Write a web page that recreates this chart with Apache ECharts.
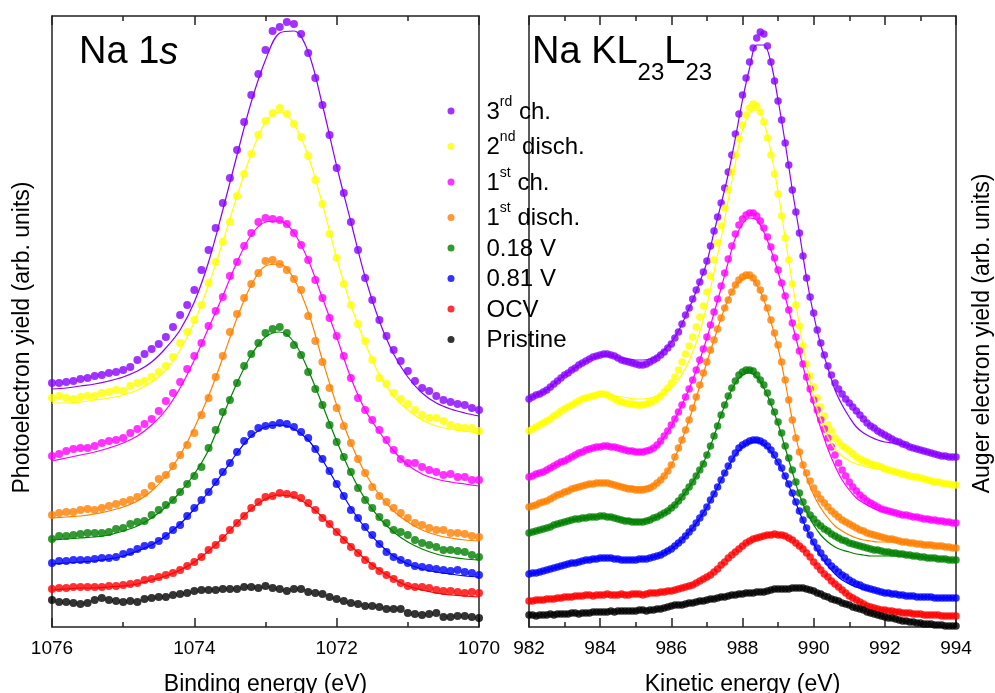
<!DOCTYPE html>
<html><head><meta charset="utf-8">
<script src="https://cdn.jsdelivr.net/npm/echarts@6/dist/echarts.min.js"></script>
<style>html,body{margin:0;padding:0;background:#fff}#c{width:995px;height:693px}</style>
</head><body><div id="c"></div>
<script>
const FONT = "'Liberation Sans', Arial, Helvetica, sans-serif";
const names = ['3rd ch.', '2nd disch.', '1st ch.', '1st disch.', '0.18 V', '0.81 V', 'OCV', 'Pristine'];
const colors = ['#8800ff', '#ffff00', '#ff00ff', '#ff8000', '#008000', '#0000ff', '#ff0000', '#000000'];
const legendLabels = {
  '3rd ch.': '{n|3}{sup|rd}{n| ch.}',
  '2nd disch.': '{n|2}{sup|nd}{n| disch.}',
  '1st ch.': '{n|1}{sup|st}{n| ch.}',
  '1st disch.': '{n|1}{sup|st}{n| disch.}',
  '0.18 V': '{n|0.18 V}',
  '0.81 V': '{n|0.81 V}',
  'OCV': '{n|OCV}',
  'Pristine': '{n|Pristine}'
};

// ---- Na 1s : binding energy grid 1076 -> 1070 eV (points every 0.1 eV, fits every 0.2 eV)
const beStart = 1076, beStep = -0.1, beFitStep = -0.2;
const na1s_3ch = [244,244,245,246,248,249,251,252,254,255,257,260,267,273,278,283,290,300,312,322,337,357,377,399,424,449,477,505,532,553,577,596,600,605,603,593,574,549,522,492,459,434,405,377,349,327,307,291,277,266,256,246,239,236,231,227,225,223,222,219,217];
const na1s_2dis = [229,231,229,228,230,231,231,234,235,237,236,241,244,246,250,255,261,270,284,295,307,322,344,365,385,405,431,453,473,492,506,514,519,513,503,490,471,447,423,393,369,343,322,303,286,267,249,243,234,228,223,217,212,209,209,206,202,200,199,199,196];
const na1s_1ch = [171,173,176,178,179,179,181,184,186,187,189,194,198,203,208,216,226,234,245,258,271,284,301,316,330,351,365,381,394,405,409,408,407,403,394,382,367,347,329,309,291,271,249,229,217,207,197,187,177,168,164,164,160,157,155,152,153,150,150,147,147];
const na1s_1dis = [112,114,115,115,117,118,117,119,121,123,125,127,130,134,141,148,152,161,172,182,194,212,229,250,271,295,313,329,343,354,366,367,363,357,348,337,311,286,265,239,219,201,184,168,154,140,131,125,119,114,109,104,102,99,97,97,94,94,93,91,90];
const na1s_018 = [88,91,91,92,93,94,94,94,95,98,99,103,105,106,112,117,122,127,135,143,151,160,179,197,215,227,244,261,273,284,294,298,300,294,282,272,255,238,222,202,185,170,155,139,127,119,110,104,97,95,92,87,84,82,80,77,77,76,75,72,70];
const na1s_081 = [64,66,66,67,67,67,68,69,69,70,73,75,78,81,82,86,91,97,102,111,119,127,135,145,155,164,175,186,193,199,201,202,204,203,200,195,189,178,168,156,143,131,117,109,100,92,83,75,70,67,64,61,60,59,58,57,56,57,55,54,52];
const na1s_ocv = [38,39,39,40,40,40,40,40,41,41,42,43,44,47,48,50,52,54,57,61,65,70,77,82,89,97,104,111,119,125,130,131,134,133,132,129,124,117,109,103,95,87,80,74,67,61,56,52,48,44,41,40,40,39,37,36,36,35,34,35,34];
const na1s_pri = [27,25,25,24,23,24,27,29,27,26,25,26,25,28,29,30,30,32,33,34,36,37,37,37,38,38,38,40,40,39,41,39,38,36,38,38,35,34,33,30,28,26,24,23,21,21,20,18,18,18,14,13,12,13,14,10,10,11,11,10,9];

const na1sFit_3ch = [238,239,241,243,246,250,256,265,279,297,325,365,417,472,525,567,594,596,575,522,461,405,350,306,273,250,234,224,218,214,211];
const na1sFit_2dis = [224,224,225,227,229,232,237,245,257,277,305,342,385,431,473,505,515,503,471,423,369,322,284,252,231,217,207,201,198,196,194];
const na1sFit_1ch = [166,169,172,175,179,184,191,202,217,239,267,299,331,365,392,405,406,394,367,329,290,249,217,195,176,162,153,148,145,143,141];
const na1sFit_1dis = [109,110,111,113,116,120,126,136,151,172,199,231,269,309,342,361,363,348,315,267,222,184,154,132,116,105,97,92,89,87,86];
const na1sFit_018 = [87,88,89,90,92,96,101,109,120,135,153,177,211,244,272,290,295,285,257,222,186,154,128,109,95,85,78,73,70,68,67];
const na1sFit_081 = [63,64,65,66,68,71,76,82,91,103,118,135,154,174,191,200,202,198,187,167,143,119,99,83,71,63,58,55,53,51,50];
const na1sFit_ocv = [37,38,39,39,40,41,43,47,51,57,65,76,89,104,118,128,132,130,122,110,95,81,68,57,48,41,37,34,32,31,30];

// ---- Na KL23L23 : kinetic energy grid 982 -> 994 eV (points every 0.1 eV, fits every 0.2 eV)
const keStart = 982, keStep = 0.1, keFitStep = 0.2;
const aug_3ch = [228,230,232,233,235,237,240,243,246,249,252,254,257,259,262,264,266,268,270,271,272,273,273,272,271,269,267,266,265,264,263,262,262,263,265,267,269,272,275,279,283,289,295,303,312,319,328,337,345,355,366,381,396,410,424,439,455,472,493,513,532,549,565,579,589,595,593,581,565,546,526,507,484,462,437,415,394,371,349,330,314,297,284,272,261,252,244,238,233,228,224,220,216,212,208,204,201,199,196,194,192,190,188,186,185,183,182,180,179,178,177,176,175,174,173,172,171,171,170,170,170];
const aug_2dis = [196,198,200,202,204,206,208,211,213,216,218,220,222,224,226,228,229,230,231,232,233,233,232,230,228,226,225,224,223,223,222,222,222,223,224,226,228,231,235,239,244,250,257,265,273,281,290,300,310,321,335,351,367,384,401,419,437,455,472,488,502,512,519,523,521,515,505,489,472,453,433,411,389,367,343,322,301,281,263,251,240,229,220,211,202,196,189,185,181,179,176,173,170,168,166,165,163,162,161,160,158,157,156,155,154,153,152,151,150,150,149,148,147,146,145,145,144,143,143,142,142];
const aug_1ch = [150,151,153,154,155,157,159,161,163,165,166,168,170,172,174,175,177,178,179,180,180,181,181,180,180,179,178,177,176,176,175,175,175,176,177,179,182,186,191,196,202,208,215,222,230,238,247,257,267,278,290,302,315,328,341,354,368,381,393,402,408,412,414,414,411,406,399,390,380,369,357,344,331,317,304,290,276,263,250,238,227,217,207,198,189,180,172,164,157,151,145,140,136,132,129,126,124,122,120,118,117,116,115,114,113,112,112,111,110,110,109,108,108,107,107,106,106,105,105,104,104];
const aug_1dis = [120,121,122,124,125,126,128,130,132,133,135,136,138,139,140,141,142,143,143,144,144,144,144,143,142,141,140,139,138,138,137,137,137,138,139,141,144,147,151,156,162,170,179,187,197,207,219,230,242,254,265,277,287,298,309,319,327,335,342,347,350,352,352,349,344,337,329,319,307,294,282,265,247,227,207,189,175,162,154,146,139,133,128,124,120,116,113,110,107,105,103,101,99,97,96,94,93,92,91,90,89,88,88,87,86,85,85,84,84,83,83,82,82,82,81,81,81,80,80,79,79];
const aug_018 = [94,95,96,97,98,99,100,102,103,104,105,106,107,108,108,109,109,110,110,110,111,111,110,110,109,108,107,106,106,105,105,105,105,106,107,109,110,112,114,116,119,122,126,130,135,140,145,151,157,163,172,181,191,201,212,222,231,239,246,252,255,257,257,256,252,247,242,234,225,215,205,194,181,169,157,145,134,125,118,112,108,104,101,98,96,93,91,89,87,86,84,83,82,81,80,79,78,77,77,76,75,75,74,74,73,73,72,72,71,71,70,70,69,69,69,68,68,68,67,67,67];
const aug_081 = [53,54,54,55,56,57,58,59,60,61,62,63,64,64,65,66,67,67,68,68,69,69,69,69,68,68,67,67,67,67,67,68,68,68,69,70,71,72,74,76,78,81,84,87,91,95,99,104,109,114,120,127,133,140,147,154,161,168,174,179,182,184,186,187,187,186,184,181,177,172,165,159,151,143,134,125,116,107,99,92,85,79,74,69,65,61,58,55,52,50,47,45,43,42,40,39,38,37,36,35,34,34,33,33,32,32,31,31,31,30,30,30,30,30,29,29,29,29,29,29,29];
const aug_ocv = [26,26,27,27,27,28,28,28,29,29,30,30,30,31,31,31,32,32,31,32,32,32,33,32,32,32,33,32,32,33,33,33,32,33,34,34,34,35,35,36,36,37,38,39,40,41,42,44,46,48,50,52,55,58,62,65,69,72,75,78,81,84,86,88,89,90,91,92,92,93,92,92,91,89,87,84,81,78,74,70,65,61,57,53,50,46,43,40,37,34,31,29,27,25,23,21,20,19,18,17,17,16,16,15,15,14,14,14,13,13,13,12,12,12,12,12,11,11,11,11,11];
const aug_pri = [12,12,11,12,12,12,13,12,13,13,13,13,14,14,13,14,14,14,15,15,15,15,15,16,15,16,16,16,16,16,16,17,17,16,17,17,18,18,19,20,21,22,22,22,23,24,24,25,26,26,27,28,28,29,30,30,31,32,32,33,33,34,34,34,35,35,35,36,37,38,38,38,38,38,39,39,39,39,38,37,36,34,33,31,30,28,27,26,24,23,22,20,19,18,17,15,14,13,12,11,10,9,9,8,7,6,6,5,5,4,4,3,3,3,2,2,2,1,1,1,1];

const augFit_3ch = [228,232,235,240,246,252,257,262,266,269,271,271,270,269,268,267,267,268,271,277,285,296,311,327,345,365,395,423,453,489,527,559,582,582,564,527,484,437,394,349,312,282,259,237,222,210,200,194,190,187,185,184,183,182,180,177,175,173,171,170,170];
const augFit_2dis = [196,200,204,208,213,218,222,226,229,231,232,232,231,230,229,228,228,229,231,234,239,247,259,275,295,322,355,389,427,464,497,514,517,505,475,435,389,344,302,262,231,207,190,178,171,166,163,161,159,158,157,156,154,152,150,149,147,145,144,143,142];
const augFit_1ch = [150,153,155,159,163,166,170,174,177,179,180,181,180,179,178,177,177,178,181,190,201,215,230,247,267,289,314,339,365,389,403,409,407,395,377,355,330,303,275,247,222,199,178,161,147,137,129,124,120,117,115,114,113,112,110,109,108,107,106,105,104];
const augFit_1dis = [120,122,125,128,132,135,138,140,142,143,144,144,143,142,141,140,140,141,144,151,162,178,197,218,241,265,287,309,328,341,348,349,342,327,305,279,245,207,175,150,132,119,109,101,96,92,89,87,86,85,85,85,85,84,84,83,82,81,81,80,79];
const augFit_018 = [94,96,98,100,103,105,107,108,109,110,111,111,110,109,108,107,107,108,110,114,119,126,135,145,157,172,191,212,230,244,252,254,250,239,223,203,179,155,132,115,102,92,85,80,77,75,73,72,71,71,71,71,71,71,70,70,69,69,68,67,67];
const augFit_081 = [53,54,56,58,60,62,64,65,67,68,69,69,69,68,68,68,68,69,71,74,78,84,91,99,109,120,133,147,160,172,180,184,185,182,175,164,150,133,115,98,83,71,61,53,47,43,40,38,36,35,33,32,32,31,31,30,30,29,29,29,29];

const na1sPts = [na1s_3ch, na1s_2dis, na1s_1ch, na1s_1dis, na1s_018, na1s_081, na1s_ocv, na1s_pri];
const na1sFits = [na1sFit_3ch, na1sFit_2dis, na1sFit_1ch, na1sFit_1dis, na1sFit_018, na1sFit_081, na1sFit_ocv, null];
const augPts = [aug_3ch, aug_2dis, aug_1ch, aug_1dis, aug_018, aug_081, aug_ocv, aug_pri];
const augFits = [augFit_3ch, augFit_2dis, augFit_1ch, augFit_1dis, augFit_018, augFit_081, null, null];

function pairs(start, step, vals) {
  return vals.map((v, i) => [Math.round((start + step * i) * 100) / 100, v]);
}

const INK = '#222';
const lineSt = { color: INK, width: 1.5 };

function xAxis(grid, min, max, inverse, position, name, showLabel) {
  return {
    type: 'value', gridIndex: grid, min: min, max: max, interval: 2, inverse: inverse, position: position,
    axisLine: { show: true, onZero: false, lineStyle: lineSt },
    axisTick: { show: true, inside: true, length: 9, lineStyle: lineSt },
    minorTick: { show: true, splitNumber: 2, length: 5, lineStyle: lineSt },
    axisLabel: { show: showLabel, color: '#000', fontSize: 19, fontFamily: FONT, margin: 12,
      formatter: v => String(v) },
    splitLine: { show: false }, minorSplitLine: { show: false },
    name: name || '', nameLocation: 'middle', nameGap: 46,
    nameTextStyle: { color: '#000', fontSize: 23, fontFamily: FONT }
  };
}
function yAxis(grid, position, name, gap, shift) {
  return {
    type: 'value', gridIndex: grid, min: 0, max: 611, position: position,
    axisLine: { show: true, onZero: false, lineStyle: lineSt },
    axisTick: { show: false }, axisLabel: { show: false }, splitLine: { show: false },
    name: name || '', nameLocation: 'middle', nameRotate: 90, nameGap: gap || 15,
    nameTextStyle: { color: '#000', fontSize: 23, fontFamily: FONT, padding: [0, shift || 0, 0, 0] }
  };
}

const series = [];
names.forEach((nm, k) => {
  series.push({
    name: nm, type: 'scatter', xAxisIndex: 0, yAxisIndex: 0, symbol: 'circle', symbolSize: 8,
    itemStyle: { color: colors[k] }, z: 2, data: pairs(beStart, beStep, na1sPts[k])
  });
  series.push({
    name: nm, type: 'scatter', xAxisIndex: 2, yAxisIndex: 2, symbol: 'circle', symbolSize: 7.5,
    itemStyle: { color: colors[k] }, z: 2, data: pairs(keStart, keStep, augPts[k])
  });
  if (na1sFits[k]) series.push({
    name: nm + ' fit', type: 'line', xAxisIndex: 0, yAxisIndex: 0, showSymbol: false, smooth: 0.35,
    lineStyle: { color: colors[k], width: 1.2 }, itemStyle: { color: colors[k] }, z: 3,
    data: pairs(beStart, beFitStep, na1sFits[k])
  });
  if (augFits[k]) series.push({
    name: nm + ' fit', type: 'line', xAxisIndex: 2, yAxisIndex: 2, showSymbol: false, smooth: 0.35,
    lineStyle: { color: colors[k], width: 1.2 }, itemStyle: { color: colors[k] }, z: 3,
    data: pairs(keStart, keFitStep, augFits[k])
  });
});

const T = { fontFamily: FONT, color: '#000', fontWeight: 'normal' };
const chart = echarts.init(document.getElementById('c'));
chart.setOption({
  animation: false,
  backgroundColor: '#fff',
  title: [
    { text: '{a|Na 1}{i|s}', left: 79, top: 34, padding: 0,
      textStyle: { fontWeight: 'normal', rich: {
        a: Object.assign({ fontSize: 38, lineHeight: 40, verticalAlign: 'top' }, T),
        i: Object.assign({ fontSize: 38, lineHeight: 40, verticalAlign: 'top', fontStyle: 'italic' }, T) } } },
    { text: '{a|Na KL}{s|23}{a|L}{s|23}', left: 532, top: 34, padding: 0,
      textStyle: { fontWeight: 'normal', rich: {
        a: Object.assign({ fontSize: 38, lineHeight: 40, verticalAlign: 'top' }, T),
        s: Object.assign({ fontSize: 24, lineHeight: 24, verticalAlign: 'top', padding: [27, 0, 0, 0] }, T) } } }
  ],
  legend: {
    data: names, orient: 'vertical', left: 447.5, top: 95, padding: 0, itemGap: 6.5,
    icon: 'circle', itemWidth: 7, itemHeight: 7, selectedMode: false,
    formatter: n => legendLabels[n],
    textStyle: { padding: [0, 0, 0, 27], rich: {
      n: Object.assign({ fontSize: 24, lineHeight: 26, verticalAlign: 'bottom' }, T),
      sup: Object.assign({ fontSize: 14, lineHeight: 15, verticalAlign: 'bottom', padding: [0, 0, 15, 0] }, T) } }
  },
  grid: [
    { left: 52, top: 16, width: 427, height: 611, outerBoundsMode: 'none', containLabel: false },
    { left: 529, top: 16, width: 427, height: 611, outerBoundsMode: 'none', containLabel: false }
  ],
  xAxis: [
    xAxis(0, 1070, 1076, true, 'bottom', 'Binding energy (eV)', true),
    xAxis(0, 1070, 1076, true, 'top', '', false),
    xAxis(1, 982, 994, false, 'bottom', 'Kinetic energy (eV)', true),
    xAxis(1, 982, 994, false, 'top', '', false)
  ],
  yAxis: [
    yAxis(0, 'left', 'Photoelectron yield (arb. units)', 17.5, 32),
    yAxis(0, 'right', '', 15, 0),
    yAxis(1, 'left', '', 15, 0),
    yAxis(1, 'right', 'Auger electron yield (arb. units)', 15, 24)
  ],
  series: series
});
</script>
</body></html>
